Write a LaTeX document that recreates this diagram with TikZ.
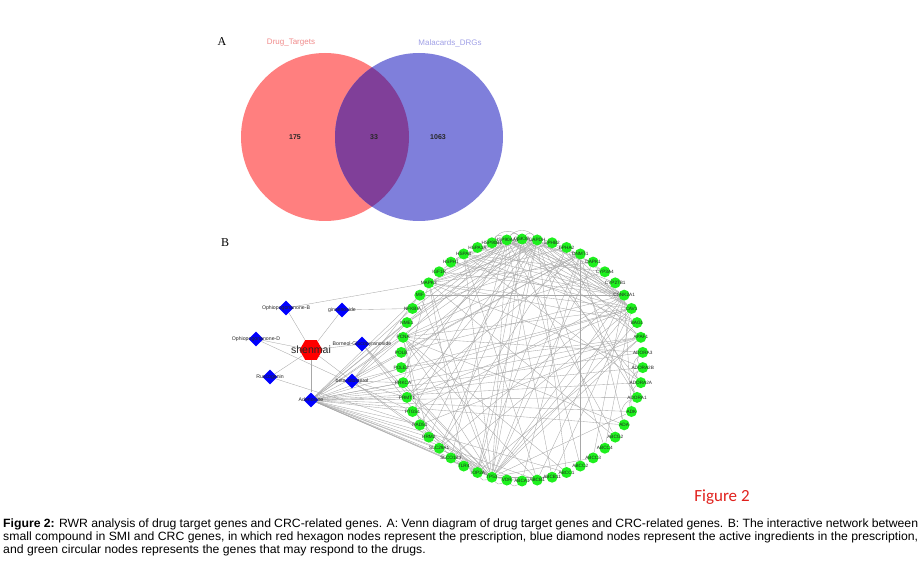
\documentclass[tikz,border=0pt]{standalone}
\usepackage{fontspec}
\setmainfont{Liberation Sans}
\newfontfamily\letterfont{Liberation Serif}
\newfontfamily\figfont{Carlito}
\newfontfamily\capfont[FakeStretch=1.02]{Liberation Sans}
\usepackage{xcolor}
\definecolor{vennred}{HTML}{FF7F7F}
\definecolor{vennblue}{HTML}{7F7FDB}
\definecolor{vennmix}{HTML}{803F99}
\definecolor{redlabel}{HTML}{F08A8A}
\definecolor{bluelabel}{HTML}{A0A0E6}
\definecolor{genegreen}{HTML}{1EF01E}
\definecolor{edgegray}{HTML}{A8A8A8}
\definecolor{figred}{HTML}{E0201C}
\usepackage{tikz}
\usetikzlibrary{shapes.geometric,backgrounds,calc}

\tikzset{
  gene/.style={circle, fill=genegreen, minimum size=11pt, inner sep=0pt},
  genetext/.style={font=\fontsize{4.7}{5}\selectfont, text=black!85, inner sep=0pt},
  ingredient/.style={diamond, fill=blue, minimum size=15pt, inner sep=0pt},
  ingtext/.style={font=\fontsize{5.2}{6}\selectfont, text=black!85, inner sep=0pt},
  recipe/.style={regular polygon, regular polygon sides=6, fill=red,
                 minimum size=23pt, inner sep=0pt},
  link/.style={draw=edgegray, line width=0.35pt},
  venntext/.style={font=\fontsize{8}{9}\selectfont},
  vennnum/.style={font=\bfseries\fontsize{7}{8}\selectfont, text=black!85},
  panel/.style={font=\letterfont\fontsize{12}{12}\selectfont},
  captext/.style={anchor=west, inner sep=0pt,
                  font=\capfont\fontsize{12}{13}\selectfont},
}

\begin{document}
\begin{tikzpicture}[x=1pt, y=1pt]
  \useasboundingbox (0,0) rectangle (921,584);

  % panel A: Venn diagram
  \coordinate (lc) at (325,447);
  \coordinate (rc) at (419,447);
  \fill[vennred] (lc) circle (84pt);
  \fill[vennblue] (rc) circle (84pt);
  \begin{scope}
    \clip (lc) circle (84pt);
    \fill[vennmix] (rc) circle (84pt);
  \end{scope}
  \node[panel] (pA) at (222,542) {A};
  \node[venntext, text=redlabel] (setL) at (291,541) {Drug\_Targets};
  \node[venntext, text=bluelabel] (setR) at (450,541) {Malacards\_DRGs};
  \node[vennnum] (nL) at (295,447) {175};
  \node[vennnum] (nM) at (374,447) {33};
  \node[vennnum] (nR) at (438,447) {1063};

  % panel B: network
  \node[panel] (pB) at (225,341) {B};
  \foreach \g [count=\i from 0] in {ABCA1,ABCB1,ABCB11,ABCC1,ABCC2,ABCC3,
      ABCC4,ABCG2,ADA,ADK,ADORA1,ADORA2A,ADORA2B,ADORA3,APAF1,BAG1,CAV1,
      CSNK2A1,CYP27B1,CYP3A4,DAPK1,DNMT1,EPHA2,EPHB2,GAPDH,GSK3B,HSP90AA1,
      HSP90B1,HSPA1A,HSPA8,HSPH1,IGF1R,MAPK3,MIF,NFKBIA,NME1,PCNA,POLB,
      POLE2,PRKCA,PRMT1,PTGS1,RAD51,RRM2,SLC29A1,SLCO1B3,TLR4,TOP2A,TP53,VDR}
    \node[gene, label={[genetext]center:\g}] (g\i)
      at ({522+121*cos(-90+7.2*\i)}, {224+121*sin(-90+7.2*\i)}) {};

  \node[recipe, label={[font=\fontsize{10.5}{11}\selectfont, text=black!85,
        inner sep=0pt]center:shenmai}] (shen) at (311,234) {};
  \node[ingredient, label={[ingtext]center:Ophiopogonanone-B}] (opB) at (286,276) {};
  \node[ingredient, label={[ingtext]center:ginsenoside}] (gins) at (342,274) {};
  \node[ingredient, label={[ingtext]center:Ophiopogonanone-D}] (opD) at (256,245) {};
  \node[ingredient, label={[ingtext]center:Borneol-Glucopyranoside}] (born) at (362,240) {};
  \node[ingredient, label={[ingtext]center:Ruscogenin}] (rusc) at (270,207) {};
  \node[ingredient, label={[ingtext]center:beta-sitosterol}] (bsit) at (352,203) {};
  \node[ingredient, label={[ingtext]center:Adenosine}] (aden) at (311,184) {};

  \begin{scope}[on background layer]
    % prescription to ingredients
    \foreach \c in {opB,gins,opD,born,rusc,bsit,aden}
      \draw[link] (shen) -- (\c);
    % ingredients to genes
    \draw[link] (opB) -- (g32);
    \draw[link] (gins) -- (g34);
    \draw[link] (opD) -- (g41);
    \draw[link] (rusc) -- (g42);
    \foreach \b in {45,47,48}
      \draw[link] (born) -- (g\b);
    \foreach \b in {33,35,36,39,40,43,48,16,21}
      \draw[link] (bsit) -- (g\b);
    \foreach \b in {0,1,3,8,9,10,11,12,13,14,16,24,26,33,34,35,36,37,38,39,
                    40,41,42,43,44,45,46,47,48}
      \draw[link] (aden) -- (g\b);
    % gene to gene
    \foreach \a/\bl in {
        48/{0,2,5,9,14,15,16,17,20,21,24,25,26,29,32,33,36,39,41,42,43,44,45,46},
        24/{3,6,10,14,16,17,19,27,29,31,33,35,37,40,42,44,47},
        26/{2,7,14,15,16,17,18,21,28,29,30,32,34,36,39,41,45},
        25/{4,11,16,17,20,22,28,31,32,35,38,43,47},
        17/{1,5,9,28,29,30,31,33,37,41,44},
        16/{2,6,22,23,30,32,36,40,45},
        36/{1,3,8,13,19,21,42,43},
        32/{7,12,15,20,22,23,39,46},
        21/{0,4,8,34,37,40},
        29/{1,11,15,19,30,31},
        22/{10,19,44,47},
        14/{38,40,42,47}}
      \foreach \b in \bl
        \draw[link] (g\a) -- (g\b);
    % short arcs between neighbours
    \foreach \a/\b in {9/10,10/11,11/12,12/13,10/12,11/13,8/10}
      \draw[link] (g\a) to[bend left=45] (g\b);
    \foreach \a/\b in {24/25,25/26,26/27,25/27,24/26}
      \draw[link] (g\a) to[bend right=50] (g\b);
    \foreach \a/\b in {48/49,49/0,47/48}
      \draw[link] (g\a) to[bend right=45] (g\b);
  \end{scope}

  % figure tag and caption
  \node[text=figred, font=\figfont\fontsize{17}{18}\selectfont] (ftag) at (722,87) {Figure 2};
  \node[captext] (cap1) at (3,60) {\makebox[915pt][s]{\textbf{Figure 2:} RWR analysis of drug target genes and CRC-related genes. A: Venn diagram of drug target genes and CRC-related genes. B: The interactive network between}};
  \node[captext] (cap2) at (3,47) {\makebox[915pt][s]{small compound in SMI and CRC genes, in which red hexagon nodes represent the prescription, blue diamond nodes represent the active ingredients in the prescription,}};
  \node[captext] (cap3) at (3,34) {and green circular nodes represents the genes that may respond to the drugs.};
\end{tikzpicture}
\end{document}
